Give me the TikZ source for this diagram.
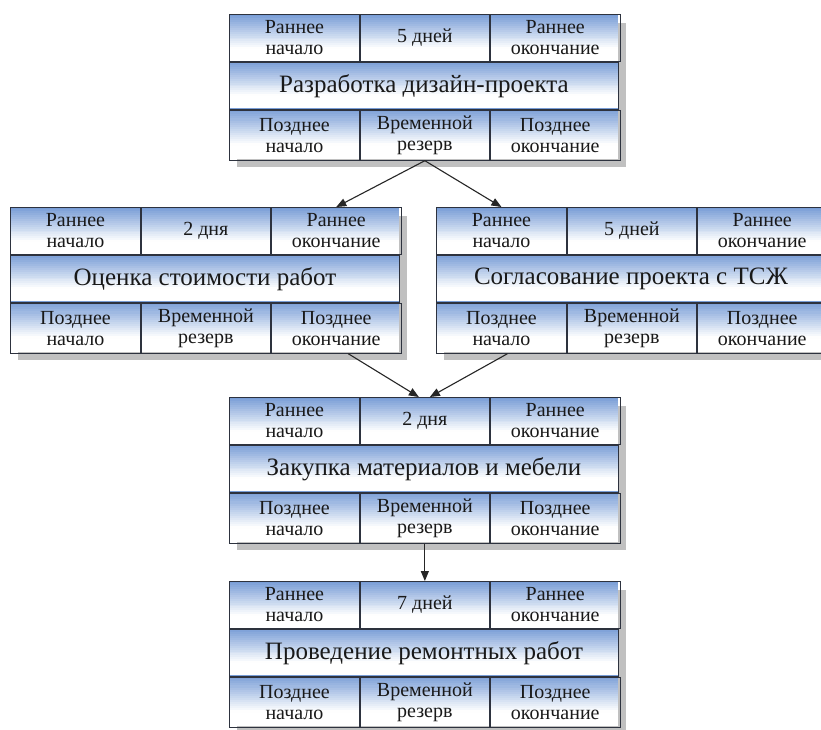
\documentclass[tikz,border=0pt]{standalone}
\usepackage{fontspec}
\setmainfont{Liberation Serif}
\usetikzlibrary{arrows.meta}

\definecolor{celltop}{RGB}{116,154,213}
\definecolor{cellline}{RGB}{45,50,62}
\definecolor{shadowgray}{RGB}{192,192,192}

\newcommand\cellfont{\fontsize{20}{21}\selectfont}
\newcommand\tasktitlefont{\fontsize{25}{27}\selectfont}

\tikzset{
  cell/.style={draw=cellline, line width=0.9pt,
    align=center, inner sep=0pt, font=\cellfont, anchor=north west, text=black!90},
  titlecell/.style={cell, font=\tasktitlefont},
  boxshadow/.style={fill=shadowgray},
  conn/.style={-{Triangle[length=10pt,width=8pt]}, line width=1.1pt, draw=black!85},
}

% a row band fading from blue at the top to white near the bottom
% #1 left, #2 top, #3 height
\newcommand\gradrow[3]{%
  \foreach \k in {0,...,23}{%
    \pgfmathtruncatemacro\shadepct{max(0,100*(1-(\k+0.5)/(24*0.74)))}%
    \fill[celltop!\shadepct!white] ({#1},{#2-\k*#3/24}) rectangle ++(389,{-#3/24-0.5});
  }%
}

% one activity: #1 name, #2 left, #3 top (measured downwards), #4 duration, #5 title
\newcommand\taskbox[5]{%
  \fill[boxshadow] ({#2+8},{-#3-9}) rectangle ++(389,-144);
  \gradrow{#2}{-#3}{47}
  \gradrow{#2}{-#3-47}{47}
  \gradrow{#2}{-#3-94}{50}
  \node[cell, minimum width=130, minimum height=47] (#1-es) at (#2,{-#3}) {Раннее\\начало};
  \node[cell, minimum width=129, minimum height=47] (#1-d) at (#1-es.north east) {\raisebox{3pt}{#4}};
  \node[cell, minimum width=130, minimum height=47] (#1-ef) at (#1-d.north east) {Раннее\\окончание};
  \node[titlecell, minimum width=389, minimum height=47] (#1-t) at (#1-es.south west) {\raisebox{2pt}{#5}};
  \node[cell, minimum width=130, minimum height=50] (#1-ls) at (#1-t.south west) {Позднее\\начало};
  \node[cell, minimum width=129, minimum height=50] (#1-r) at (#1-ls.north east) {Временной\\резерв};
  \node[cell, minimum width=130, minimum height=50] (#1-lf) at (#1-r.north east) {Позднее\\окончание};
}

\begin{document}
\begin{tikzpicture}[x=1pt, y=1pt]
  \useasboundingbox (0,0) rectangle (821,-729);
  \clip (0,0) rectangle (821,-729);
  \fill[white] (0,0) rectangle (821,-729);

  \taskbox{design}{229}{14}{5 дней}{Разработка дизайн-проекта}
  \taskbox{cost}{10}{207}{2 дня}{Оценка стоимости работ}
  \taskbox{hoa}{436}{207}{5 дней}{Согласование проекта с ТСЖ}
  \taskbox{buy}{229}{397}{2 дня}{Закупка материалов и мебели}
  \taskbox{repair}{229}{581}{7 дней}{Проведение ремонтных работ}

  \draw[conn] (design-r.south) -- (cost-ef.north);
  \draw[conn] (design-r.south) -- (hoa-es.north);
  \draw[conn] ([xshift=12pt]cost-lf.south) -- ([xshift=-6pt]buy-d.north);
  \draw[conn] ([xshift=6pt]hoa-ls.south) -- ([xshift=5pt]buy-d.north);
  \draw[conn] (buy-r.south) -- (repair-d.north);
\end{tikzpicture}
\end{document}
